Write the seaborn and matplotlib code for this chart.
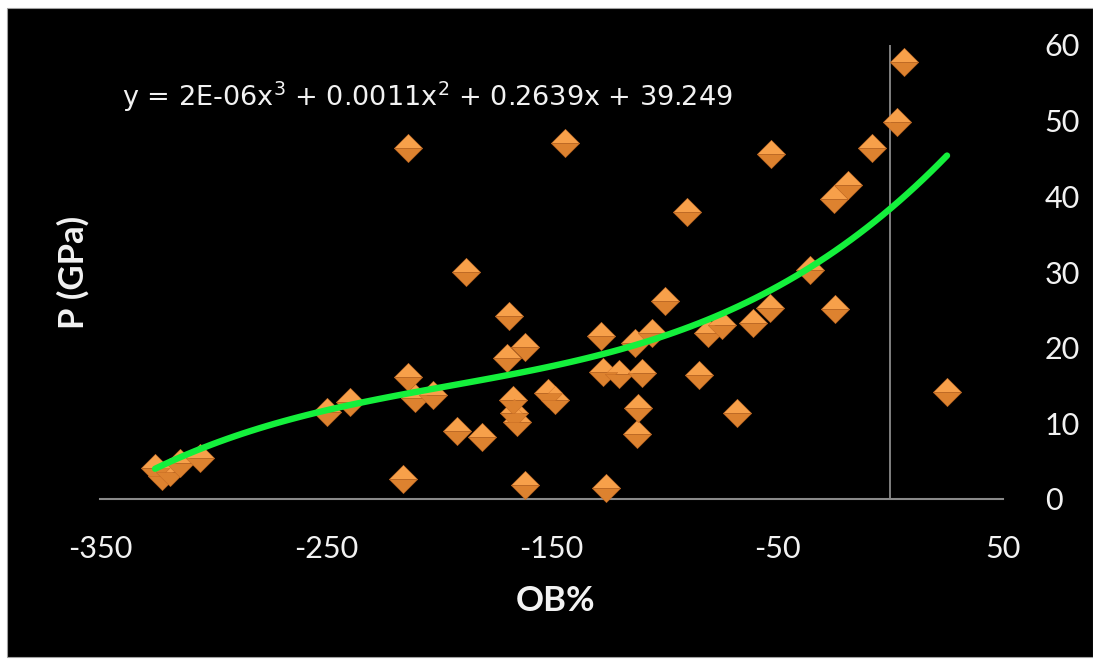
import numpy as np
import pandas as pd
import matplotlib
matplotlib.use("Agg")
import matplotlib.pyplot as plt
from matplotlib.path import Path
from matplotlib.patches import Rectangle
import seaborn as sns

# Oxygen balance (OB%) against detonation pressure P (GPa)
ob_percent = [
    -325.6, -322.5, -319.0, -314.5, -305.6,
    -249.4, -239.2,
    -213.5, -215.7, -213.5, -210.4, -202.4,
    -191.8, -187.8, -180.7,
    -169.0, -169.7, -161.7,
    -167.0, -166.6, -165.2,
    -161.7,
    -151.5, -148.4,
    -144.0,
    -128.0, -127.0, -120.0, -125.8,
    -113.0, -109.9, -111.6, -112.0,
    -105.4, -99.7,
    -90.0,
    -84.6, -80.6, -74.4, -67.8,
    -60.7, -53.0, -52.7,
    -35.4, -24.4, -24.8, -18.6, -8.0,
    3.0, 6.2, 25.2,
]
pressure_gpa = [
    4.1, 3.0, 3.6, 4.8, 5.4,
    11.5, 12.8,
    46.4, 2.6, 16.1, 13.3, 13.7,
    9.0, 30.0, 8.2,
    24.2, 18.6, 20.1,
    13.1, 11.4, 10.2,
    1.8,
    14.0, 13.1,
    47.0,
    21.5, 16.8, 16.5, 1.4,
    20.6, 16.6, 12.0, 8.6,
    21.9, 26.2,
    37.9,
    16.4, 21.9, 23.0, 11.4,
    23.2, 25.2, 45.6,
    30.2, 25.1, 39.7, 41.5, 46.4,
    49.8, 57.7, 14.1,
]

x_ticks = [-350, -250, -150, -50, 50]
y_ticks = [0, 10, 20, 30, 40, 50, 60]
x_title = "OB%"
y_title = "P (GPa)"
equation_label = "y = 2E-06x$^{3}$ + 0.0011x$^{2}$ + 0.2639x + 39.249"

df = pd.DataFrame({"OB": ob_percent, "P": pressure_gpa})

sns.set_theme(style="dark")
plt.rcParams["font.family"] = ["Lato", "DejaVu Sans"]
plt.rcParams["axes.unicode_minus"] = False
plt.rcParams["mathtext.fontset"] = "dejavusans"
plt.rcParams["mathtext.default"] = "regular"

W, H = 1093, 660
fig = plt.figure(figsize=(W / 100, H / 100), dpi=100, facecolor="white")
# black chart area inside a thin white frame
fig.patches.append(Rectangle((7 / W, 3 / H), (W - 7) / W, (657 - 8) / H,
                             transform=fig.transFigure, facecolor="black",
                             edgecolor="#a0a0a0", lw=0.8, zorder=-5))

ax = fig.add_axes([100 / W, (H - 499) / H, 903 / W, 454 / H])
ax.set_facecolor("black")

# faceted diamond markers: lighter upper half, darker lower half
top_half = Path([(-1, 0), (0, 1), (1, 0), (-1, 0)],
                [Path.MOVETO, Path.LINETO, Path.LINETO, Path.CLOSEPOLY])
bottom_half = Path([(-1, 0), (0, -1), (1, 0), (-1, 0)],
                   [Path.MOVETO, Path.LINETO, Path.LINETO, Path.CLOSEPOLY])

marker_size = 420
sns.scatterplot(data=df, x="OB", y="P", marker=top_half, s=marker_size,
                color="#F7A04A", edgecolor="#D07028", linewidth=0.3,
                ax=ax, zorder=3, clip_on=False, legend=False)
sns.scatterplot(data=df, x="OB", y="P", marker=bottom_half, s=marker_size,
                color="#DD822F", edgecolor="#C06520", linewidth=0.3,
                ax=ax, zorder=3, clip_on=False, legend=False)

# third-order polynomial trendline
sns.regplot(data=df, x="OB", y="P", order=3, ci=None, scatter=False,
            truncate=True, color="#14F03C",
            line_kws={"lw": 4.6, "solid_capstyle": "round", "zorder": 5},
            ax=ax)

ax.set_xlim(-350, 50)
ax.set_ylim(0, 60)
ax.set_xticks(x_ticks)
ax.set_yticks(y_ticks)
ax.yaxis.tick_right()
ax.grid(False)
ax.tick_params(axis="both", length=0, labelsize=22, labelcolor="#f2f2f2")
ax.tick_params(axis="x", pad=26)
ax.tick_params(axis="y", pad=30, labelleft=False, labelright=True)
plt.setp(ax.get_yticklabels(), ha="left")

for side in ("left", "right", "top"):
    ax.spines[side].set_visible(False)
ax.spines["bottom"].set_color("#8a8a8a")
ax.spines["bottom"].set_linewidth(1.5)
ax.axvline(0, color="#8a8a8a", lw=1.3, zorder=1)

ax.set_xlabel(x_title, fontsize=25, fontweight="bold", color="#f2f2f2",
              va="center")
ax.xaxis.set_label_coords(0.505, -0.2247)
ax.set_ylabel(y_title, fontsize=25, fontweight="bold", color="#f2f2f2",
              va="center")
ax.yaxis.set_label_coords(-0.030, 0.5)

ax.text(0.0244, 0.8656, equation_label, transform=ax.transAxes,
        fontsize=19.5, family="DejaVu Sans", color="#f2f2f2",
        va="baseline", ha="left")

fig.savefig("out.png", dpi=100, facecolor=fig.get_facecolor())
